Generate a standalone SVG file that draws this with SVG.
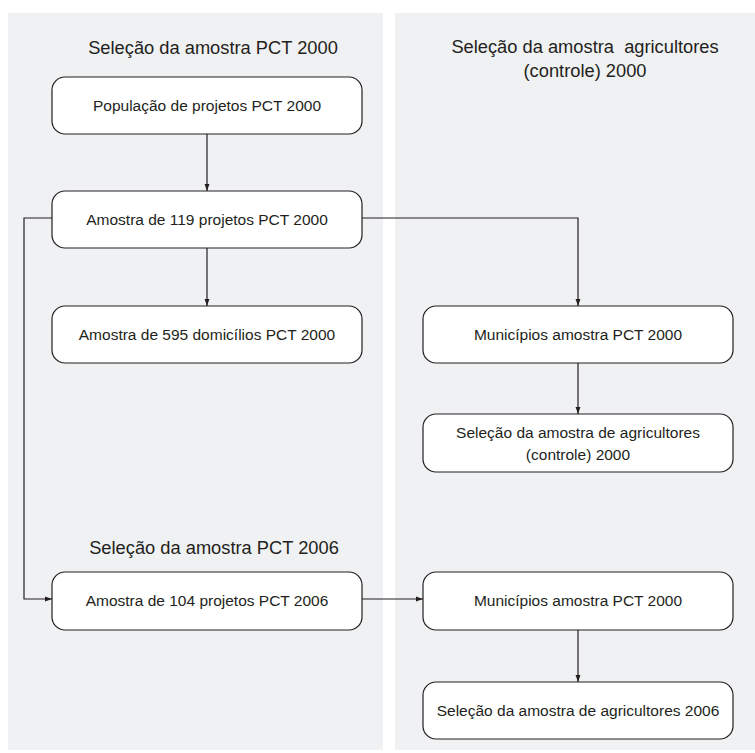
<svg xmlns="http://www.w3.org/2000/svg" width="755" height="753" viewBox="0 0 755 753">
<defs>
<style>
.panel{fill:#f0f1f3;stroke:none}
.box{fill:#ffffff;stroke:#231f20;stroke-width:1.2}
.t{font-family:"Liberation Sans",Arial,sans-serif;font-size:15.5px;fill:#231f20;text-anchor:middle}
.h{font-family:"Liberation Sans",Arial,sans-serif;font-size:18.3px;fill:#231f20;text-anchor:middle}
.c{fill:none;stroke:#231f20;stroke-width:1.2}
</style>
<marker id="ah" viewBox="0 0 10 10" refX="10" refY="5" markerWidth="7" markerHeight="7" markerUnits="userSpaceOnUse" orient="auto">
<path d="M0,1.5 L10,5 L0,8.5 Z" fill="#231f20"/>
</marker>
</defs>
<rect width="755" height="753" fill="#ffffff"/>
<rect class="panel" x="8" y="13" width="375" height="737"/>
<rect class="panel" x="395" y="13" width="360" height="737"/>
<text class="h" x="213" y="54">Seleção da amostra PCT 2000</text>
<text class="h" x="585" y="53" xml:space="preserve">Seleção da amostra  agricultores</text>
<text class="h" x="585" y="77">(controle) 2000</text>
<text class="h" x="214" y="554">Seleção da amostra PCT 2006</text>
<g id="connectors">
<path class="c" d="M207,134 V191" marker-end="url(#ah)"/>
<path class="c" d="M207,248 V306" marker-end="url(#ah)"/>
<path class="c" d="M52,218 H24 V599 H52" marker-end="url(#ah)"/>
<path class="c" d="M362,218 H578 V306" marker-end="url(#ah)"/>
<path class="c" d="M578,363 V414" marker-end="url(#ah)"/>
<path class="c" d="M362,599 H423" marker-end="url(#ah)"/>
<path class="c" d="M578,630 V682" marker-end="url(#ah)"/>
</g>
<g id="n1"><rect class="box" x="52" y="77" width="310" height="57" rx="13"/><text class="t" x="207" y="111">População de projetos PCT 2000</text></g>
<g id="n2"><rect class="box" x="52" y="191" width="310" height="57" rx="13"/><text class="t" x="207" y="225">Amostra de 119 projetos PCT 2000</text></g>
<g id="n3"><rect class="box" x="52" y="306" width="310" height="57" rx="13"/><text class="t" x="207" y="340">Amostra de 595 domicílios PCT 2000</text></g>
<g id="n4"><rect class="box" x="423" y="306" width="310" height="57" rx="13"/><text class="t" x="578" y="340">Municípios amostra PCT 2000</text></g>
<g id="n5"><rect class="box" x="423" y="414" width="310" height="58" rx="13"/><text class="t" x="578" y="438">Seleção da amostra de agricultores</text><text class="t" x="578" y="460">(controle) 2000</text></g>
<g id="n6"><rect class="box" x="52" y="572" width="310" height="58" rx="13"/><text class="t" x="207" y="606">Amostra de 104 projetos PCT 2006</text></g>
<g id="n7"><rect class="box" x="423" y="572" width="310" height="58" rx="13"/><text class="t" x="578" y="606">Municípios amostra PCT 2000</text></g>
<g id="n8"><rect class="box" x="423" y="682" width="310" height="57" rx="13"/><text class="t" x="578" y="716">Seleção da amostra de agricultores 2006</text></g>
</svg>
